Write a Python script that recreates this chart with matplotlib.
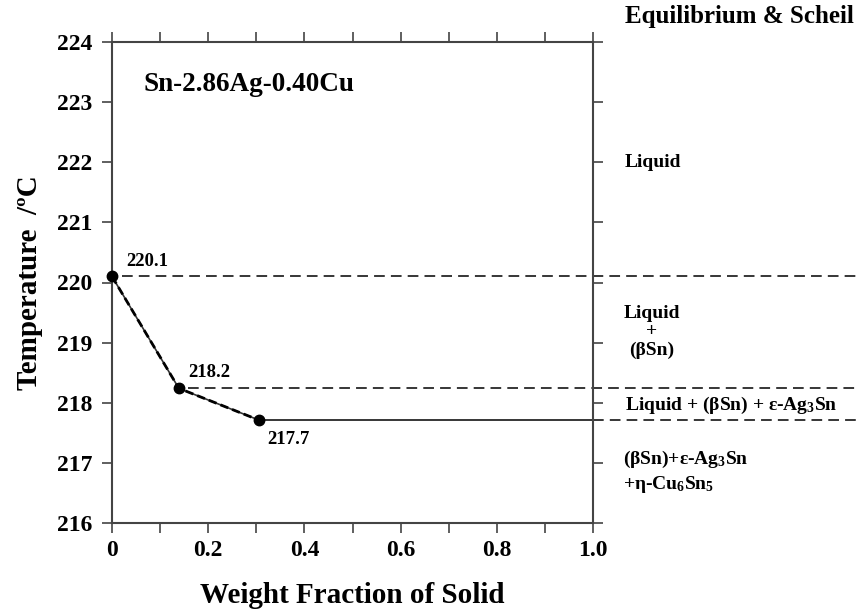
import matplotlib
matplotlib.use("Agg")
import matplotlib.pyplot as plt
from matplotlib.ticker import MultipleLocator

plt.rcParams['font.family'] = ['Liberation Serif', 'DejaVu Serif']
plt.rcParams['font.weight'] = 'bold'
plt.rcParams['mathtext.fontset'] = 'custom'
plt.rcParams['mathtext.rm'] = 'Liberation Serif:bold'
plt.rcParams['mathtext.it'] = 'Liberation Serif:bold'
plt.rcParams['mathtext.bf'] = 'Liberation Serif:bold'

# Data
frac_solid = [0.0, 0.139, 0.306]
temperature = [220.1, 218.24, 217.71]
point_labels = ["220.1", "218.2", "217.7"]
boundary_temps = [220.1, 218.24, 217.71]
region_labels = ["Liquid", "Liquid\n+\n(βSn)", "Liquid + (βSn) + ε-Ag$_3$Sn",
                 "(βSn)+ε-Ag$_3$Sn\n+η-Cu$_6$Sn$_5$"]
region_temps = [222.0, 219.18, 218.0, 216.85]
xticks = [0, 0.2, 0.4, 0.6, 0.8, 1.0]
xticklabels = ["0", "0.2", "0.4", "0.6", "0.8", "1.0"]
yticks = [216, 217, 218, 219, 220, 221, 222, 223, 224]

fig = plt.figure(figsize=(8.6, 6.12), dpi=100)
ax = fig.add_axes([112/860, 1-523/612, (593-112)/860, (523-42)/612])
ax.set_xlim(0, 1.0)
ax.set_ylim(216, 224)

spine_c = '#444444'
for s in ax.spines.values():
    s.set_color(spine_c)
    s.set_linewidth(1.5)

ax.set_xticks(xticks)
ax.set_xticklabels(xticklabels)
ax.xaxis.set_minor_locator(MultipleLocator(0.1))
ax.set_yticks(yticks)
ax.tick_params(axis='both', which='both', direction='out', length=7.2, width=1.2,
               color=spine_c, top=True, right=True, labelsize=17)
ax.tick_params(axis='y', labelright=False, pad=7)
ax.tick_params(axis='x', labeltop=False, pad=5)

# right edge of figure in data coords
x_edge = 1.0 + (860 - 593) / 481.0

dash = (7, 4)
# horizontal boundary lines
ax.plot([frac_solid[0] + 0.02, x_edge], [boundary_temps[0]] * 2, color='black', lw=1.1,
        dashes=dash, clip_on=False)
ax.plot([frac_solid[1] + 0.02, x_edge], [boundary_temps[1]] * 2, color='black', lw=1.1,
        dashes=dash, clip_on=False)
ax.plot([frac_solid[2], 1.0], [boundary_temps[2]] * 2, color='black', lw=1.1,
        clip_on=False)
ax.plot([1.0, x_edge], [boundary_temps[2]] * 2, color='black', lw=1.1,
        dashes=dash, clip_on=False)

# solidification path (equilibrium solid + Scheil dashed overlay)
ax.plot(frac_solid, temperature, color='#333333', lw=1.2, zorder=4)
ax.plot(frac_solid, temperature, color='black', lw=2.0, dashes=(3, 1.5), zorder=5)
ax.plot(frac_solid, temperature, 'o', color='black', ms=7.5, zorder=6, clip_on=False)

# point labels
ax.annotate(point_labels[0], (frac_solid[0], temperature[0]), xytext=(10, 5),
            textcoords='offset points', fontsize=13.5, fontweight='bold', va='bottom')
ax.annotate(point_labels[1], (frac_solid[1], temperature[1]), xytext=(7, 5),
            textcoords='offset points', fontsize=13.5, fontweight='bold', va='bottom')
ax.annotate(point_labels[2], (frac_solid[2], temperature[2]), xytext=(6, -8),
            textcoords='offset points', fontsize=13.5, fontweight='bold', va='top')

ax.text(0.065, 223.3, "Sn-2.86Ag-0.40Cu", fontsize=19.5, fontweight='bold',
        va='center', ha='left')

ax.set_xlabel("Weight Fraction of Solid", fontsize=21, fontweight='bold', labelpad=15)
ax.set_ylabel("Temperature  /\u00baC", fontsize=21, fontweight='bold', labelpad=10)

# right-side region labels
fig.text(625/860, 1-17/612, "Equilibrium & Scheil", fontsize=18, fontweight='bold',
         ha='left', va='center')
xr = 1.0 + (625 - 593) / 481.0
ax.text(xr, region_temps[0], region_labels[0], fontsize=14, fontweight='bold',
        ha='left', va='center', clip_on=False)
ax.text(1.0 + (652 - 593) / 481.0, region_temps[1], region_labels[1], fontsize=14,
        fontweight='bold', ha='center', va='center', multialignment='center',
        linespacing=1.12, clip_on=False)
ax.text(xr, region_temps[2] - 0.04, region_labels[2], fontsize=14, fontweight='bold',
        ha='left', va='center', clip_on=False)
ax.text(1.0 + (623 - 593) / 481.0, region_temps[3], region_labels[3], fontsize=14,
        fontweight='bold', ha='left', va='center', linespacing=1.3, clip_on=False)

fig.savefig("out.png", dpi=100)
